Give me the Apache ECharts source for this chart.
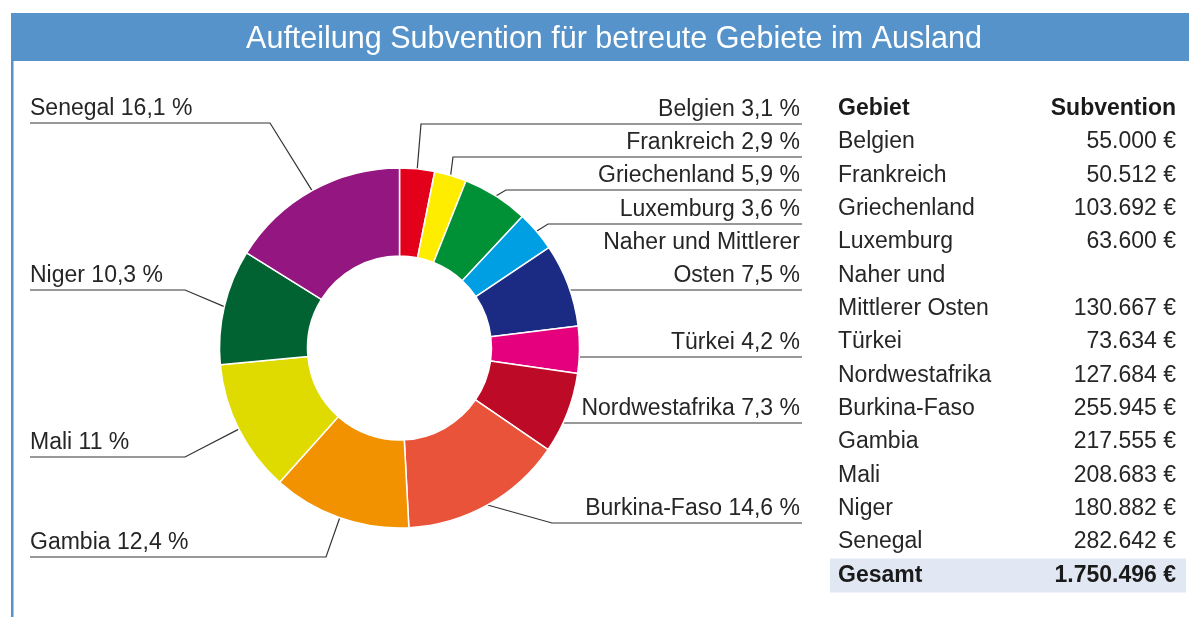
<!DOCTYPE html>
<html>
<head>
<meta charset="utf-8">
<title>Aufteilung Subvention</title>
<script src="https://cdn.jsdelivr.net/npm/echarts@6/dist/echarts.min.js"></script>
<style>
  html, body { margin: 0; padding: 0; background: #fff; }
  #chart { width: 1189px; height: 617px; }
</style>
</head>
<body>
<div id="chart"></div>
<script>
// Gebiete, im Uhrzeigersinn ab 12 Uhr
const regions = ['Belgien', 'Frankreich', 'Griechenland', 'Luxemburg', 'Naher und Mittlerer Osten', 'Türkei',
    'Nordwestafrika', 'Burkina-Faso', 'Gambia', 'Mali', 'Niger', 'Senegal'];
// Subvention in Euro
const amounts = [55000, 50512, 103692, 63600, 130667, 73634, 127684, 255945, 217555, 208683, 180882, 282642];
// Prozentwerte wie im Diagramm beschriftet
const percentLabels = ['3,1', '2,9', '5,9', '3,6', '7,5', '4,2', '7,3', '14,6', '12,4', '11', '10,3', '16,1'];

const colors = ['#e2001a', '#ffed00', '#009036', '#009fe3', '#1b2a83', '#e5007d',
    '#bd0b27', '#e8533a', '#f39200', '#dfdb00', '#006331', '#941680'];

const FONT = "'Liberation Sans', Helvetica, Arial, sans-serif";
const TEXT = '#262626';
const CX = 399.5, CY = 348, R_IN = 92, R_OUT = 180;

// Lage der Beschriftungen: Seite, Höhe der Unterstreichung, x des Knicks
const labelSpots = [
    { side: 'r', y: 124, bend: 421 },
    { side: 'r', y: 157, bend: 453 },
    { side: 'r', y: 190, bend: 506 },
    { side: 'r', y: 224, bend: 548 },
    { side: 'r', y: 290, flat: true },
    { side: 'r', y: 357, flat: true },
    { side: 'r', y: 423, flat: true },
    { side: 'r', y: 523, bend: 552 },
    { side: 'l', y: 557, bend: 326 },
    { side: 'l', y: 457, bend: 185 },
    { side: 'l', y: 290, bend: 185 },
    { side: 'l', y: 123, bend: 270 }
];

const fmtEuro = (n) => String(n).replace(/\B(?=(\d{3})+(?!\d))/g, '.') + ' €';

// Tabelle rechts
const TABLE_X = 838, TABLE_R = 1176, ROW_Y0 = 108.5, ROW_H = 33.35;
const rowY = (i) => ROW_Y0 + i * ROW_H;

const tableEls = [];
let row = 0;
tableEls.push({ type: 'text', x: TABLE_X, y: rowY(row), style: { text: 'Gebiet', font: `bold 23px ${FONT}`, fill: '#1a1a1a', verticalAlign: 'middle' } });
tableEls.push({ type: 'text', x: TABLE_R, y: rowY(row), style: { text: 'Subvention', font: `bold 23px ${FONT}`, fill: '#1a1a1a', align: 'right', verticalAlign: 'middle' } });
row++;
regions.forEach((name, i) => {
    const parts = name === 'Naher und Mittlerer Osten' ? ['Naher und', 'Mittlerer Osten'] : [name];
    parts.forEach((part, k) => {
        tableEls.push({ type: 'text', x: TABLE_X, y: rowY(row), style: { text: part, font: `23px ${FONT}`, fill: TEXT, verticalAlign: 'middle' } });
        if (k === parts.length - 1) {
            tableEls.push({ type: 'text', x: TABLE_R, y: rowY(row), style: { text: fmtEuro(amounts[i]), font: `23px ${FONT}`, fill: TEXT, align: 'right', verticalAlign: 'middle' } });
        }
        row++;
    });
});
const total = amounts.reduce((a, b) => a + b, 0);
tableEls.push({ type: 'rect', z: -1, shape: { x: 830, y: rowY(row) - 17, width: 356, height: 34 }, style: { fill: '#e2e8f3' } });
tableEls.push({ type: 'text', x: TABLE_X, y: rowY(row), style: { text: 'Gesamt', font: `bold 23px ${FONT}`, fill: '#1a1a1a', verticalAlign: 'middle' } });
tableEls.push({ type: 'text', x: TABLE_R, y: rowY(row), style: { text: fmtEuro(total), font: `bold 23px ${FONT}`, fill: '#1a1a1a', align: 'right', verticalAlign: 'middle' } });

const chart = echarts.init(document.getElementById('chart'), null, { renderer: 'canvas' });

chart.setOption({
    backgroundColor: '#fff',
    animation: false,
    graphic: [
        { type: 'rect', shape: { x: 11, y: 13, width: 1178, height: 48 }, style: { fill: '#5593ca' } },
        { type: 'rect', shape: { x: 11, y: 61, width: 2.5, height: 556 }, style: { fill: '#5593ca' } },
        {
            type: 'text', x: 614, y: 40,
            style: { text: 'Aufteilung Subvention für betreute Gebiete im Ausland', font: `30.5px ${FONT}`, fill: '#fff', align: 'center', verticalAlign: 'middle' }
        },
        { type: 'group', children: tableEls }
    ],
    series: [{
        type: 'pie',
        center: [CX, CY],
        radius: [R_IN, R_OUT],
        startAngle: 90,
        clockwise: true,
        avoidLabelOverlap: false,
        data: regions.map((name, i) => ({ name, value: amounts[i], itemStyle: { color: colors[i] } })),
        itemStyle: { borderColor: '#fff', borderWidth: 1.5 },
        label: {
            show: true,
            position: 'outside',
            fontFamily: FONT,
            fontSize: 23,
            lineHeight: 33,
            color: TEXT,
            formatter: (p) => {
                const t = p.name + ' ' + percentLabels[p.dataIndex] + ' %';
                return t.replace(' Osten', '\nOsten');
            }
        },
        labelLine: { show: true, length: 10, length2: 10, lineStyle: { color: '#333', width: 1.2 } },
        labelLayout: (p) => {
            const s = labelSpots[p.dataIndex];
            const lines = (p.text || '').split('\n').length;
            const ty = s.y - 14 - (lines - 1) * 33 / 2;
            let start = p.labelLinePoints ? p.labelLinePoints[0] : [CX, CY];
            let bend = [s.bend, s.y];
            if (s.flat) {
                start = [CX + Math.sqrt(R_OUT * R_OUT - (s.y - CY) * (s.y - CY)), s.y];
                bend = [start[0] + 1, s.y];
            }
            if (s.side === 'r') {
                return { x: 800, y: ty, align: 'right', verticalAlign: 'middle', labelLinePoints: [start, bend, [802, s.y]] };
            }
            return { x: 30, y: ty, align: 'left', verticalAlign: 'middle', labelLinePoints: [start, bend, [30, s.y]] };
        }
    }]
});
</script>
</body>
</html>
